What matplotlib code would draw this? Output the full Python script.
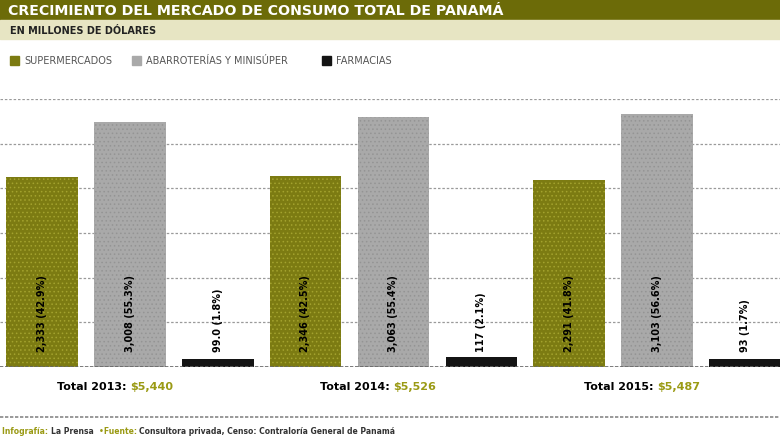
import matplotlib.pyplot as plt
import numpy as np
from matplotlib.patches import Rectangle

# data (millones de dólares)
years = ["2013", "2014", "2015"]
categories = ["SUPERMERCADOS", "ABARROTERÍAS Y MINISÚPER", "FARMACIAS"]
supermercados = [2333, 2346, 2291]
abarroterias = [3008, 3063, 3103]
farmacias = [99, 117, 93]
labels_super = ["2,333 (42.9%)", "2,346 (42.5%)", "2,291 (41.8%)"]
labels_abarr = ["3,008 (55.3%)", "3,063 (55.4%)", "3,103 (56.6%)"]
labels_farm = ["99.0 (1.8%)", "117 (2.1%)", "93 (1.7%)"]
totals = ["$5,440", "$5,526", "$5,487"]

OLIVE = "#7c7b12"
OLIVE_DARK = "#6c6b08"
OLIVE_TEXT = "#9a9a14"
GRAY = "#a9a9a9"
BLACK = "#141414"
colors = [OLIVE, GRAY, BLACK]
hatch_colors = ["#a3a22e", "#949494", BLACK]

plt.rcParams["hatch.linewidth"] = 0.6

fig = plt.figure(figsize=(7.8, 4.39), dpi=100)
W, H = 780, 439


def fy(py):
    return 1 - py / H


# header bands
fig.patches.append(Rectangle((0, fy(21)), 1, 21 / H, transform=fig.transFigure,
                             color=OLIVE_DARK, zorder=0))
fig.patches.append(Rectangle((0, fy(40)), 1, 19 / H, transform=fig.transFigure,
                             color="#e7e5c3", zorder=0))
fig.text(8 / W, fy(11), "CRECIMIENTO DEL MERCADO DE CONSUMO TOTAL DE PANAMÁ",
         color="white", fontsize=10.2, fontweight="bold", va="center")
fig.text(10 / W, fy(30.5), "EN MILLONES DE DÓLARES", color="#222222",
         fontsize=7, fontweight="bold", va="center")

# legend row
lx = [10, 132, 322]
for x, c, name in zip(lx, colors, categories):
    fig.patches.append(Rectangle((x / W, fy(66)), 9 / W, 9 / H,
                                 transform=fig.transFigure, color=c))
    fig.text((x + 14) / W, fy(61.5), name, color="#555555", fontsize=7,
             va="center")

# chart
ax = fig.add_axes([0, fy(368), 1, (368 - 100) / H])
step = 263.5
x = np.arange(len(years))
off = 88 / step
bw = 71.5 / step
series = [supermercados, abarroterias, farmacias]
labels = [labels_super, labels_abarr, labels_farm]
for i, (vals, c, hc, labs) in enumerate(zip(series, colors, hatch_colors, labels)):
    xs = x + (i - 1) * off
    ax.bar(xs, vals, width=bw, color=c, edgecolor=hc, linewidth=0,
           hatch="...." if i < 2 else None, zorder=2)
    for xi, lab in zip(xs, labs):
        ax.text(xi, 200, lab, rotation=90, ha="center", va="bottom",
                fontsize=7, fontweight="bold", color="black", zorder=3)

ymax = 3290
ax.set_ylim(0, ymax)
ax.set_xlim(-130 / step, 650 / step)
ax.set_yticks(np.linspace(0, ymax, 7))
ax.yaxis.grid(True, linestyle=(0, (2, 1.5)), color="#9a9a9a", linewidth=0.9)
ax.set_axisbelow(True)
ax.tick_params(left=False, bottom=False, labelleft=False, labelbottom=False)
for s in ax.spines.values():
    s.set_visible(False)
ax.axhline(0, color="#666666", linewidth=1.2, linestyle=(0, (2, 1)), zorder=4)

# totals under each group
for xi, yr, tot in zip(x, years, totals):
    ax.annotate(f"Total {yr}: ", xy=(xi, 0), xytext=(0, -14),
                textcoords="offset points", ha="right", va="center",
                fontsize=8, fontweight="bold", color="black",
                annotation_clip=False)
    ax.annotate(tot, xy=(xi, 0), xytext=(0, -14), textcoords="offset points",
                ha="left", va="center", fontsize=8, fontweight="bold",
                color=OLIVE_TEXT, annotation_clip=False)

# footer
fig.add_artist(plt.Line2D([0, 1], [fy(418), fy(418)], transform=fig.transFigure,
                          color="#888888", linewidth=1.2, linestyle=(0, (2, 1))))
parts = [("Infografía: ", OLIVE_TEXT), ("La Prensa  ", "#333333"),
         ("•Fuente: ", OLIVE_TEXT),
         ("Consultora privada, Censo: Contraloría General de Panamá", "#333333")]
prev = fig.text(2 / W, fy(432), parts[0][0], color=parts[0][1], fontsize=5.5,
                fontweight="bold", va="center")
for txt, col in parts[1:]:
    # chain each piece right after the previous one
    prev = ax.annotate(txt, xy=(1, 0.5), xycoords=prev, va="center", ha="left",
                       fontsize=5.5, fontweight="bold", color=col,
                       annotation_clip=False)

fig.savefig("out.png", dpi=100)
